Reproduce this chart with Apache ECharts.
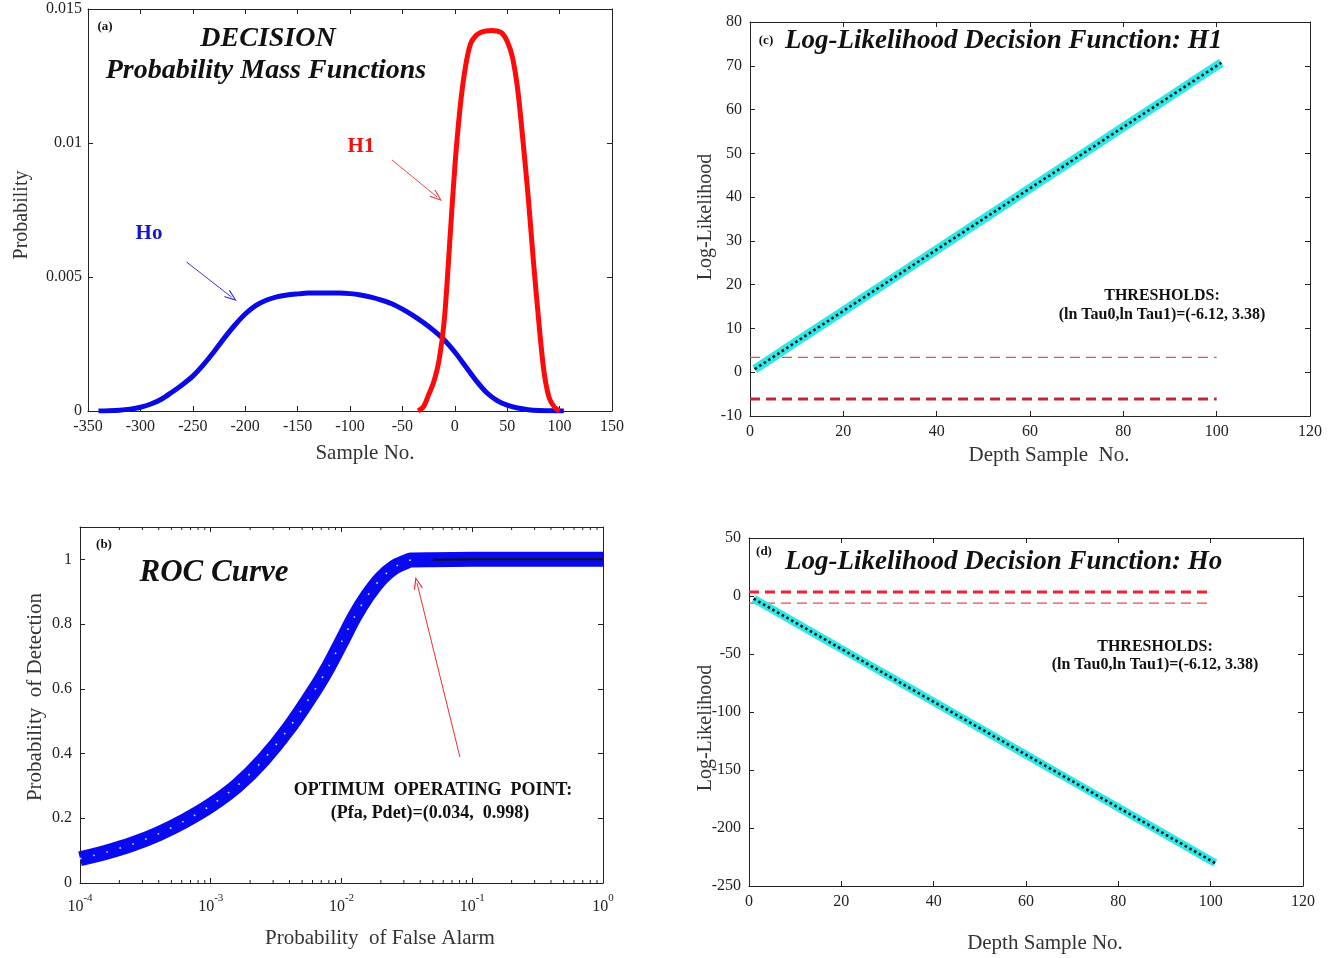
<!DOCTYPE html>
<html>
<head>
<meta charset="utf-8">
<script src="https://cdn.jsdelivr.net/npm/echarts@6/dist/echarts.min.js"></script>
<style>
  html, body { margin: 0; padding: 0; background: #fff; }
  #chart { width: 1341px; height: 958px; }
</style>
</head>
<body>
<div id="chart"></div>
<script>
// ---- (a) probability mass functions under each hypothesis ----
const hoSample = [-340,-330,-320,-310,-300,-290,-280,-270,-260,-250,-240,-230,-220,-210,-200,-190,-180,-170,-160,-150,-140,-130,-120,-110,-100,-90,-80,-70,-60,-50,-40,-30,-20,-10,0,10,20,30,40,50,60,70,80,90,100,104];
const hoProb = [0,0.00001,0.00003,0.00007,0.00014,0.00026,0.00044,0.0007,0.00098,0.0013,0.00172,0.0022,0.00272,0.0032,0.00362,0.00393,0.00413,0.00426,0.00433,0.00437,0.0044,0.0044,0.0044,0.0044,0.00438,0.00433,0.00425,0.00414,0.0040,0.0038,0.00357,0.0033,0.0030,0.00265,0.0022,0.00168,0.00115,0.0007,0.0004,0.00022,0.00011,0.00005,0.00002,0.00001,0,0];
const h1Sample = [-35,-30,-25,-20,-15,-10,-5,0,5,10,15,20,25,30,35,40,45,50,55,60,65,70,75,80,85,90,95,100];
const h1Prob = [0,0.00015,0.0006,0.0011,0.0019,0.0034,0.0062,0.0091,0.0113,0.0128,0.0137,0.0140,0.01413,0.01418,0.0142,0.01418,0.0141,0.0138,0.0132,0.0120,0.0101,0.0080,0.0056,0.0034,0.0015,0.0005,0.00015,0];

// ---- (b) ROC curve ----
const rocPfa = [1e-4,1.585e-4,2.512e-4,3.981e-4,6.31e-4,1e-3,1.585e-3,2.512e-3,3.981e-3,6.31e-3,7.943e-3,1e-2,1.259e-2,1.585e-2,1.995e-2,2.512e-2,3.162e-2,0.034,0.05,0.1,0.3,1];
const rocPdet = [0.075,0.095,0.120,0.152,0.192,0.240,0.300,0.380,0.480,0.600,0.668,0.745,0.823,0.888,0.940,0.975,0.994,0.998,0.999,1,1,1];
const optPfa = 0.034;
const optPdet = 0.998;
const rocExpTicks = [-4,-3,-2,-1,0];

// ---- (c), (d) log-likelihood decision functions ----
const depthSample = [1,5,10,15,20,25,30,35,40,45,50,55,60,65,70,75,80,85,90,95,100,101];
const llrH1 = [0.7,3.5,7.0,10.5,14.0,17.5,21.0,24.5,28.0,31.5,35.0,38.5,42.0,45.5,49.0,52.5,56.0,59.5,63.0,66.5,70.0,70.7];
const llrHo = [-2.3,-11.4,-22.8,-34.2,-45.6,-57.0,-68.4,-79.8,-91.2,-102.6,-114.0,-125.4,-136.8,-148.2,-159.6,-171.0,-182.4,-193.8,-205.2,-216.6,-228.0,-230.3];
const thresholdSpan = [0, 100];
const lnTau0 = -6.12;
const lnTau1 = 3.38;

const SERIF = "'Liberation Serif','DejaVu Serif',serif";
const AXIS_COLOR = '#222';

const chart = echarts.init(document.getElementById('chart'), null, { renderer: 'canvas' });

const grids = [
  { left: 88,  top: 9,   width: 524, height: 402 },
  { left: 80,  top: 527, width: 523, height: 356 },
  { left: 750, top: 22,  width: 560, height: 394 },
  { left: 749, top: 538, width: 554, height: 348 }
];

function axisBase(gridIndex, pos, showLabel, extra) {
  return Object.assign({
    gridIndex: gridIndex,
    position: pos,
    axisLine: { show: true, onZero: false, lineStyle: { color: AXIS_COLOR, width: 1 } },
    axisTick: { show: true, inside: true, length: 5, lineStyle: { color: AXIS_COLOR } },
    splitLine: { show: false },
    axisLabel: { show: showLabel, color: AXIS_COLOR, fontFamily: SERIF, fontSize: 16, margin: 8 }
  }, extra);
}
function boxX(gi, extra, labelExtra) {
  const b = axisBase(gi, 'bottom', true, extra);
  if (labelExtra) Object.assign(b.axisLabel, labelExtra);
  const t = axisBase(gi, 'top', false, extra);
  return [b, t];
}
function boxY(gi, extra, labelExtra) {
  const l = axisBase(gi, 'left', true, extra);
  if (labelExtra) Object.assign(l.axisLabel, labelExtra);
  const r = axisBase(gi, 'right', false, extra);
  return [l, r];
}

const xAxes = [].concat(
  boxX(0, { type: 'value', min: -350, max: 150, interval: 50 }),
  boxX(1, { type: 'log', logBase: 10, min: 1e-4, max: 1 }, {
    margin: 10,
    formatter: function (v) {
      const e = Math.round(Math.log10(v));
      return rocExpTicks.indexOf(e) >= 0 ? '{b|10}{s|' + e + '}' : '';
    },
    rich: {
      b: { fontFamily: SERIF, fontSize: 16, color: AXIS_COLOR, verticalAlign: 'bottom', lineHeight: 22 },
      s: { fontFamily: SERIF, fontSize: 11, color: AXIS_COLOR, verticalAlign: 'top', lineHeight: 22 }
    }
  }),
  boxX(2, { type: 'value', min: 0, max: 120, interval: 20 }),
  boxX(3, { type: 'value', min: 0, max: 120, interval: 20 })
);
const yAxes = [].concat(
  boxY(0, { type: 'value', min: 0, max: 0.015, interval: 0.005 }, { margin: 6 }),
  boxY(1, { type: 'value', min: 0, max: 1.1, interval: 0.2 }, {
    formatter: function (v) { return v > 1.05 ? '' : String(Math.round(v * 10) / 10); }
  }),
  boxY(2, { type: 'value', min: -10, max: 80, interval: 10 }),
  boxY(3, { type: 'value', min: -250, max: 50, interval: 50 })
);

const zip = (a, b) => a.map((v, i) => [v, b[i]]);
const arrowHead = 'path://M5,0 L10,11 L9,12 L5,3 L1,12 L0,11 Z';
function arrow(from, to, color) {
  return {
    silent: true,
    animation: false,
    symbol: ['none', arrowHead],
    symbolSize: [9, 13],
    label: { show: false },
    lineStyle: { color: color, width: 1, type: 'solid' },
    data: [[{ coord: from }, { coord: to }]]
  };
}

const optIndex = rocPfa.indexOf(optPfa);
const minorTicks = [];
for (let e = -4; e < 0; e++) for (let m = 2; m <= 9; m++) minorTicks.push(m * Math.pow(10, e));

const series = [
  // (a)
  {
    type: 'line', xAxisIndex: 0, yAxisIndex: 0, data: zip(hoSample, hoProb),
    smooth: 0.3, showSymbol: false,
    lineStyle: { color: '#0A0AE6', width: 5, join: 'round' },
    markLine: arrow([-256, 0.00556], [-213, 0.00425], '#3535C8')
  },
  {
    type: 'line', xAxisIndex: 0, yAxisIndex: 0, data: zip(h1Sample, h1Prob),
    smooth: 0.3, showSymbol: false,
    lineStyle: { color: '#FF0A0A', width: 5, join: 'round' },
    markLine: arrow([-60, 0.00937], [-17, 0.00799], '#E04848')
  },
  // (b)
  {
    type: 'line', xAxisIndex: 2, yAxisIndex: 2, data: zip(rocPfa, rocPdet),
    smooth: 0.3, showSymbol: false,
    lineStyle: { color: '#0A0AF0', width: 15, join: 'round' },
    markLine: arrow([0.0805, 0.389], [0.0378, 0.927], '#E83030')
  },
  {
    type: 'line', xAxisIndex: 2, yAxisIndex: 2, data: zip(rocPfa.slice(0, optIndex + 1), rocPdet.slice(0, optIndex + 1)),
    smooth: 0.3, showSymbol: false,
    lineStyle: { color: '#D8D8F0', width: 1.6, type: [1.6, 12] }
  },
  {
    type: 'line', xAxisIndex: 2, yAxisIndex: 2, data: zip(rocPfa.slice(optIndex + 1), rocPdet.slice(optIndex + 1)),
    showSymbol: false,
    lineStyle: { color: '#111', width: 2 }
  },
  {
    type: 'scatter', xAxisIndex: 2, yAxisIndex: 2, data: [[optPfa, optPdet]],
    symbolSize: 10, itemStyle: { color: '#F01010', borderColor: '#A00000', borderWidth: 1 }
  },
  {
    type: 'custom', xAxisIndex: 2, yAxisIndex: 2, data: minorTicks.map(v => [v]),
    silent: true, clip: false,
    renderItem: function (params, api) {
      const v = api.value(0);
      const b = api.coord([v, 0]);
      const t = api.coord([v, 1.1]);
      const st = { stroke: AXIS_COLOR, lineWidth: 1 };
      return {
        type: 'group',
        children: [
          { type: 'line', shape: { x1: b[0], y1: b[1], x2: b[0], y2: b[1] - 3 }, style: st },
          { type: 'line', shape: { x1: t[0], y1: t[1], x2: t[0], y2: t[1] + 3 }, style: st }
        ]
      };
    }
  },
  // (c)
  {
    type: 'line', xAxisIndex: 4, yAxisIndex: 4, data: zip(thresholdSpan, [lnTau1, lnTau1]),
    showSymbol: false, lineStyle: { color: '#E84A4E', width: 1.3, type: [10, 6] }
  },
  {
    type: 'line', xAxisIndex: 4, yAxisIndex: 4, data: zip(thresholdSpan, [lnTau0, lnTau0]),
    showSymbol: false, lineStyle: { color: '#C22838', width: 3, type: [10, 6] }
  },
  {
    type: 'line', xAxisIndex: 4, yAxisIndex: 4, data: zip(depthSample, llrH1),
    showSymbol: false, lineStyle: { color: '#2EE8E8', width: 9 }
  },
  {
    type: 'line', xAxisIndex: 4, yAxisIndex: 4, data: zip(depthSample, llrH1),
    showSymbol: false, lineStyle: { color: '#101818', width: 2.6, type: [2.6, 2.8] }
  },
  // (d)
  {
    type: 'line', xAxisIndex: 6, yAxisIndex: 6, data: zip(thresholdSpan, [lnTau1, lnTau1]),
    showSymbol: false, lineStyle: { color: '#F0202C', width: 3, type: [10, 6] }
  },
  {
    type: 'line', xAxisIndex: 6, yAxisIndex: 6, data: zip(thresholdSpan, [lnTau0, lnTau0]),
    showSymbol: false, lineStyle: { color: '#E84A4E', width: 1.3, type: [10, 6] }
  },
  {
    type: 'line', xAxisIndex: 6, yAxisIndex: 6, data: zip(depthSample, llrHo),
    showSymbol: false, lineStyle: { color: '#2EE8E8', width: 8 }
  },
  {
    type: 'line', xAxisIndex: 6, yAxisIndex: 6, data: zip(depthSample, llrHo),
    showSymbol: false, lineStyle: { color: '#101818', width: 2.6, type: [2.6, 2.8] }
  }
];

function txt(x, y, text, font, fill, extra, align) {
  return Object.assign({
    type: 'text', x: x, y: y, silent: true,
    style: { text: text, font: font, fill: fill || '#111', align: align || 'center', verticalAlign: 'middle' }
  }, extra || {});
}
const bi = size => 'italic bold ' + size + 'px ' + SERIF;
const b = size => 'bold ' + size + 'px ' + SERIF;
const n = size => size + 'px ' + SERIF;
const vert = { rotation: Math.PI / 2 };
const thrText = '(ln Tau0,ln Tau1)=(' + lnTau0.toFixed(2) + ', ' + lnTau1.toFixed(2) + ')';
const optText = '(Pfa, Pdet)=(' + optPfa + ',  ' + optPdet + ')';

const graphics = [
  // (a)
  txt(105, 27, '(a)', b(13)),
  txt(268, 39, 'DECISION', bi(28)),
  txt(266, 71, 'Probability Mass Functions', bi(28)),
  txt(361, 147, 'H1', b(21), '#F01010'),
  txt(149, 234, 'Ho', b(21), '#1515D0'),
  txt(365, 453, 'Sample No.', n(21), '#333'),
  txt(22, 215, 'Probability', n(20), '#333', vert),
  // (b)
  txt(104, 545, '(b)', b(13)),
  txt(214, 573, 'ROC Curve', bi(31)),
  txt(433, 790, 'OPTIMUM  OPERATING  POINT:', b(18)),
  txt(430, 813, optText, b(18)),
  txt(380, 938, 'Probability  of False Alarm', n(21), '#333'),
  txt(35, 697, 'Probability  of Detection', n(21), '#333', vert),
  // (c)
  txt(766, 41, '(c)', b(13)),
  txt(785, 41, 'Log-Likelihood Decision Function: H1', bi(27), '#111', null, 'left'),
  txt(1162, 296, 'THRESHOLDS:', b(16)),
  txt(1162, 315, thrText, b(16)),
  txt(1049, 455, 'Depth Sample  No.', n(21), '#333'),
  txt(706, 217, 'Log-Likelihood', n(20), '#333', vert),
  // (d)
  txt(764, 552, '(d)', b(13)),
  txt(785, 562, 'Log-Likelihood Decision Function: Ho', bi(27), '#111', null, 'left'),
  txt(1155, 647, 'THRESHOLDS:', b(16)),
  txt(1155, 665, thrText, b(16)),
  txt(1045, 943, 'Depth Sample No.', n(21), '#333'),
  txt(706, 728, 'Log-Likelihood', n(20), '#333', vert)
];

chart.setOption({
  animation: false,
  backgroundColor: '#fff',
  textStyle: { fontFamily: SERIF },
  grid: grids,
  xAxis: xAxes,
  yAxis: yAxes,
  series: series,
  graphic: { elements: graphics }
});
</script>
</body>
</html>
